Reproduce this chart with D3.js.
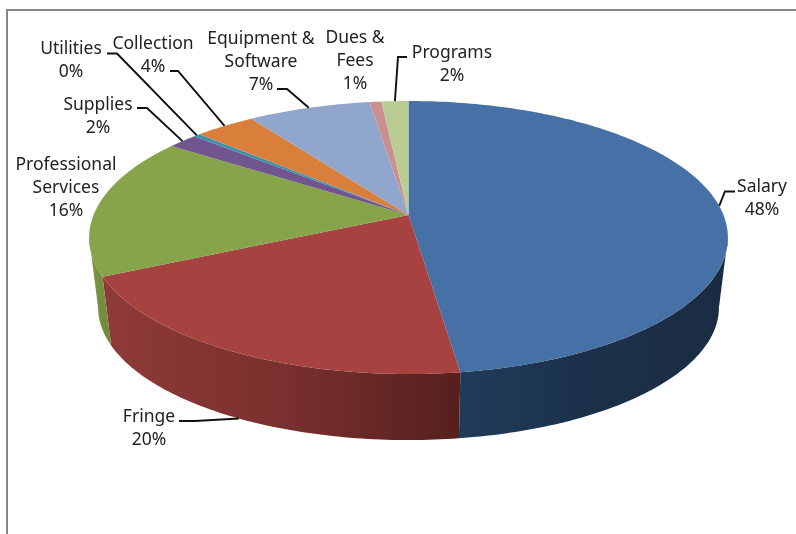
<!DOCTYPE html>
<html>
<head>
<meta charset="utf-8">
<script src="https://cdn.jsdelivr.net/npm/d3@7"></script>
<style>
  html, body { margin: 0; padding: 0; background: #fff; }
  svg { display: block; filter: blur(0.4px); }
</style>
</head>
<body>
<div id="chart"></div>
<script>
// Chart data
var categories = ["Salary", "Fringe", "Professional Services", "Supplies", "Utilities",
  "Collection", "Equipment & Software", "Dues & Fees", "Programs"];
var shares = [47.8, 20.1, 16.7, 1.8, 0.4, 3.6, 7.3, 0.7, 1.6];
var percentLabels = ["48%", "20%", "16%", "2%", "0%", "4%", "7%", "1%", "2%"];
var labelLines = [["Salary"], ["Fringe"], ["Professional", "Services"], ["Supplies"], ["Utilities"],
  ["Collection"], ["Equipment &", "Software"], ["Dues &", "Fees"], ["Programs"]];
var topColors = ["#4571a6", "#a64341", "#88a44b", "#70558f", "#3a93ad",
  "#d97f3b", "#90a6cd", "#ca9090", "#b9cc94"];
var wallColors = [
  ["#203c5a", "#1b3049", "#1a2c42"],
  ["#8f3a38", "#7a302e", "#56201e"],
  ["#7f9a45", "#748f40", "#6d8a3b"]
];

// Label placement: centre x, first baseline, then leader start and elbow
var labelX = [762, 149, 66, 98, 71, 153, 261, 355, 452];
var labelY = [192, 422, 170, 110, 54, 49, 44, 43, 58];
var leaderStart = [[735, 191.5], [179, 421], null, [137, 108], [107, 53.5], [170, 71], [277, 89], null, [407, 57]];
var leaderElbow = [[725, 191.5], [195, 421], null, [147, 108], [117, 53.5], [178, 71], [287, 89], null, [398, 57]];

var svgWidth = 796;
var svgHeight = 534;

// Pie perspective: centre of the disc and the tilt of the projection
var centerX = 408.5;
var centerY = 215;
var tilt = 0.165;
var scaleX = 315;
var scaleY = 132.8;

// The lower rim is the upper one shrunk a little and moved down
var lowerScale = 0.972;
var lowerShift = 76.5;

// Angle range where the wall faces the viewer
var wallFrom = Math.PI - Math.asin(Math.sqrt(1 - tilt * tilt));
var wallTo = 2 * Math.PI - wallFrom;

function upperPoint(angle) {
  var x = Math.sin(angle);
  var y = -Math.cos(angle);
  var w = 1 - tilt * y;
  return [centerX + scaleX * x / w, centerY + scaleY * y / w];
}

function lowerPoint(angle) {
  var p = upperPoint(angle);
  return [centerX + lowerScale * (p[0] - centerX), lowerScale * p[1] + lowerShift];
}

function rim(fn, a0, a1) {
  var n = Math.max(2, Math.ceil(Math.abs(a1 - a0) * 60));
  return d3.range(n + 1).map(function(i) {
    return fn(a0 + (a1 - a0) * i / n);
  });
}

var svg = d3.select("#chart")
  .append("svg")
  .attr("width", svgWidth)
  .attr("height", svgHeight);

// Frame
svg.append("path")
  .attr("d", d3.line()([[7, svgHeight + 5], [7, 10], [svgWidth + 5, 10]]))
  .attr("fill", "none")
  .attr("stroke", "#868686")
  .attr("stroke-width", 2);

var pie = d3.pie().sort(null);
var slices = pie(shares);
var line = d3.line();

// Wall gradients
var defs = svg.append("defs");
wallColors.forEach(function(stops, i) {
  var grad = defs.append("linearGradient").attr("id", "wall" + i);
  stops.forEach(function(c, j) {
    grad.append("stop")
      .attr("offset", j / (stops.length - 1))
      .attr("stop-color", c);
  });
});

// Walls, only the part of each slice that faces the viewer
var walls = slices
  .map(function(d) {
    return { index: d.index, a0: Math.max(d.startAngle, wallFrom), a1: Math.min(d.endAngle, wallTo) };
  })
  .filter(function(d) { return d.a1 > d.a0; });

svg.append("g").selectAll("path")
  .data(walls)
  .enter()
  .append("path")
  .attr("d", function(d) {
    return line(rim(upperPoint, d.a0, d.a1).concat(rim(lowerPoint, d.a1, d.a0))) + "Z";
  })
  .attr("fill", function(d) { return "url(#wall" + d.index + ")"; });

// Top of the pie
svg.append("g").selectAll("path")
  .data(slices)
  .enter()
  .append("path")
  .attr("d", function(d) {
    return line([[centerX, centerY]].concat(rim(upperPoint, d.startAngle, d.endAngle))) + "Z";
  })
  .attr("fill", function(d) { return topColors[d.index]; });

// Leader lines end on the rim at the middle of the slice
var leaders = slices.filter(function(d) { return leaderStart[d.index]; });

svg.append("g").selectAll("path")
  .data(leaders)
  .enter()
  .append("path")
  .attr("d", function(d) {
    var mid = (d.startAngle + d.endAngle) / 2;
    var end = categories[d.index] === "Fringe" ? lowerPoint(mid) : upperPoint(mid);
    return line([leaderStart[d.index], leaderElbow[d.index], end]);
  })
  .attr("fill", "none")
  .attr("stroke", "#111")
  .attr("stroke-width", 1.9);

// Labels
var labelGroups = svg.append("g").selectAll("text")
  .data(slices)
  .enter()
  .append("text")
  .attr("text-anchor", "middle")
  .attr("font-family", "'Noto Sans', sans-serif")
  .attr("font-size", "17.5px")
  .attr("fill", "#222");

labelGroups.selectAll("tspan")
  .data(function(d) {
    return labelLines[d.index].concat(percentLabels[d.index]).map(function(t, i) {
      return { text: t, x: labelX[d.index], y: labelY[d.index] + i * 22.8 };
    });
  })
  .enter()
  .append("tspan")
  .attr("x", function(d) { return d.x; })
  .attr("y", function(d) { return d.y; })
  .text(function(d) { return d.text; });
</script>
</body>
</html>
